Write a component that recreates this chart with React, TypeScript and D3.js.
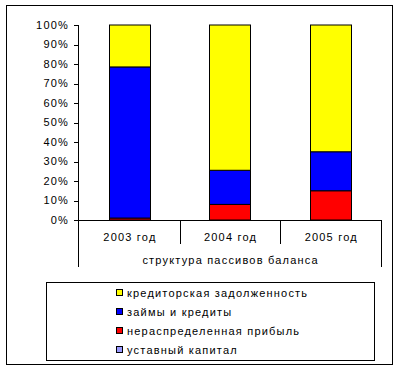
import * as d3 from "d3";
import React from "react";

// years on the category axis
const years = ["2003 год", "2004 год", "2005 год"];
const groupTitle = "структура пассивов баланса";

// series, bottom to top in the stack (% of liabilities)
const seriesNames = [
  "уставный капитал",
  "нераспределенная прибыль",
  "займы и кредиты",
  "кредиторская задолженность",
];
const seriesColors = ["#9999FF", "#FF0000", "#0000FF", "#FFFF00"];

const ustavny = [0, 0, 0];
const pribyl = [1, 8, 15];
const zaimy = [77.5, 17.5, 20];
const kreditorka = [21.5, 74.5, 65];

const yTicks = [0, 10, 20, 30, 40, 50, 60, 70, 80, 90, 100];

const W = 400;
const H = 370;
const font = "'Liberation Sans', Arial, sans-serif";
const ls = 1.2;

export default function App() {
  const rows = years.map((y, i) => ({
    year: y,
    s0: ustavny[i],
    s1: pribyl[i],
    s2: zaimy[i],
    s3: kreditorka[i],
  }));
  const keys = ["s0", "s1", "s2", "s3"];
  const stacked = d3.stack<any>().keys(keys)(rows);

  const x = d3.scaleBand().domain(years).range([79, 381]).padding(0);
  const y = d3.scaleLinear().domain([0, 100]).range([220, 25]);
  const barW = x.bandwidth() * 0.41;
  const axisY = y(0);

  const legendOrder = [3, 2, 1, 0];

  return (
    <div style={{ position: "fixed", left: 0, top: 0 }}>
      <svg width={W} height={H} style={{ display: "block", background: "#fff" }}>
        <rect x={6.5} y={5.5} width={386} height={359} fill="#fff" stroke="#000" />

        {/* y axis */}
        <line x1={78.5} x2={78.5} y1={y(100)} y2={axisY} stroke="#000" />
        {yTicks.map((t) => (
          <g key={t}>
            <line x1={74} x2={78.5} y1={Math.round(y(t)) + 0.5} y2={Math.round(y(t)) + 0.5} stroke="#000" />
            <text
              x={69}
              y={y(t)}
              dy="0.35em"
              textAnchor="end"
              fontFamily={font}
              fontSize={11}
              letterSpacing={ls}
            >
              {t}%
            </text>
          </g>
        ))}

        {/* bars */}
        {stacked.map((layer, li) =>
          layer.map((d, i) => {
            const h = y(d[0]) - y(d[1]);
            if (h <= 0) return null;
            const cx = (x(years[i]) as number) + x.bandwidth() / 2;
            return (
              <rect
                key={li + "-" + i}
                x={Math.round(cx - barW / 2) + 0.5}
                y={y(d[1])}
                width={Math.round(barW)}
                height={h}
                fill={seriesColors[li]}
                stroke="#000"
                strokeWidth={1}
              />
            );
          })
        )}

        {/* category axis */}
        <line x1={78.5} x2={382} y1={axisY + 0.5} y2={axisY + 0.5} stroke="#000" />
        {years.map((yr, i) => {
          const x0 = x(yr) as number;
          return (
            <g key={yr}>
              {i > 0 && (
                <line x1={Math.round(x0) + 0.5} x2={Math.round(x0) + 0.5} y1={axisY} y2={244} stroke="#000" />
              )}
              <text
                x={x0 + x.bandwidth() / 2 + ls / 2}
                y={237}
                dy="0.35em"
                textAnchor="middle"
                fontFamily={font}
                fontSize={11}
                letterSpacing={ls}
              >
                {yr}
              </text>
            </g>
          );
        })}
        <line x1={78.5} x2={78.5} y1={axisY} y2={267} stroke="#000" />
        <line x1={381.5} x2={381.5} y1={axisY} y2={267} stroke="#000" />
        <text
          x={(79 + 381) / 2 + ls / 2}
          y={260}
          dy="0.35em"
          textAnchor="middle"
          fontFamily={font}
          fontSize={11}
          letterSpacing={ls}
        >
          {groupTitle}
        </text>

        {/* legend */}
        <rect x={46.5} y={282.5} width={328} height={78} fill="#fff" stroke="#000" />
        {legendOrder.map((si, j) => {
          const ly = 293 + j * 19;
          return (
            <g key={si}>
              <rect x={116.5} y={ly - 3.5} width={6} height={6} fill={seriesColors[si]} stroke="#000" />
              <text
                x={127}
                y={ly}
                dy="0.35em"
                fontFamily={font}
                fontSize={11}
                letterSpacing={ls}
              >
                {seriesNames[si]}
              </text>
            </g>
          );
        })}
      </svg>
    </div>
  );
}
